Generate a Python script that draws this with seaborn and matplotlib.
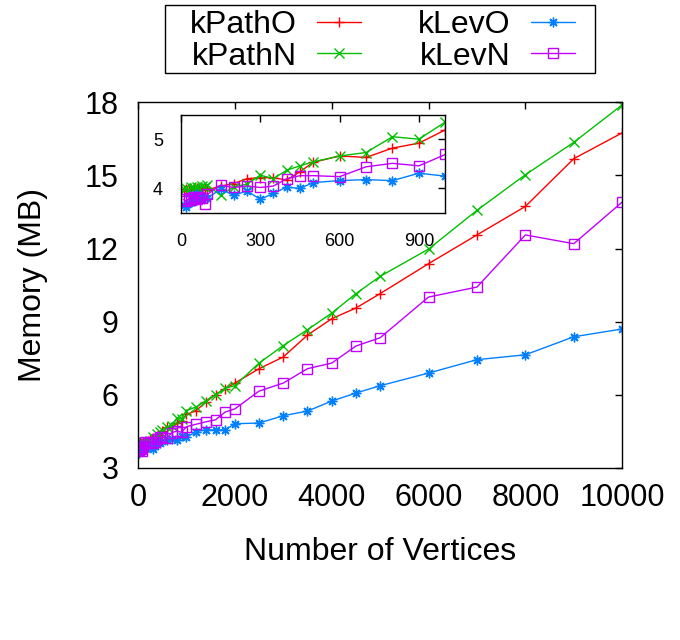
import matplotlib
matplotlib.use('Agg')
import matplotlib.pyplot as plt
import matplotlib.patches as mpatches
import seaborn as sns
import pandas as pd

# Data
vertices = [10, 20, 30, 40, 50, 60, 70, 80, 90, 100,
            150, 200, 250, 300, 350, 400, 450, 500,
            600, 700, 800, 900, 1000,
            1200, 1400, 1600, 1800, 2000,
            2500, 3000, 3500, 4000, 4500, 5000,
            6000, 7000, 8000, 9000, 10000]

kpath_o = [3.95, 3.98, 3.96, 3.99, 3.97, 4.00, 3.98, 3.99, 4.00, 3.97,
           4.05, 4.10, 4.20, 4.22, 4.22, 4.17, 4.34, 4.53,
           4.66, 4.63, 4.82, 4.92, 5.19,
           5.35, 5.70, 6.01, 6.25, 6.48,
           7.07, 7.55, 8.45, 9.12, 9.56, 10.15,
           11.38, 12.56, 13.73, 15.69, 16.75]

kpath_n = [3.98, 4.00, 3.97, 4.02, 4.00, 4.03, 4.01, 4.05, 4.02, 4.07,
           3.86, 4.03, 4.09, 4.27, 4.20, 4.37, 4.46, 4.54,
           4.66, 4.73, 5.05, 5.00, 5.35,
           5.50, 5.75, 6.00, 6.27, 6.37,
           7.30, 8.02, 8.67, 9.35, 10.15, 10.86,
           11.98, 13.57, 15.03, 16.36, 17.90]

klev_o = [3.66, 3.62, 3.70, 3.84, 3.75, 3.88, 3.78, 3.85, 3.80, 3.80,
          3.99, 3.86, 3.95, 3.78, 3.90, 4.03, 4.00, 4.12,
          4.16, 4.18, 4.16, 4.31, 4.25,
          4.49, 4.56, 4.56, 4.56, 4.81,
          4.84, 5.14, 5.33, 5.74, 6.07, 6.37,
          6.89, 7.44, 7.64, 8.38, 8.70]

klev_n = [3.78, 3.74, 3.80, 3.76, 3.82, 3.79, 3.83, 3.80, 3.69, 3.88,
          4.07, 4.02, 4.05, 4.02, 4.05, 4.20, 4.26, 4.26,
          4.24, 4.44, 4.51, 4.46, 4.69,
          4.79, 4.89, 4.97, 5.29, 5.42,
          6.15, 6.48, 7.07, 7.30, 8.00, 8.34,
          10.01, 10.42, 12.56, 12.20, 13.91]

series_names = ['kPathO', 'kPathN', 'kLevO', 'kLevN']
series_values = [kpath_o, kpath_n, klev_o, klev_n]
colors = ['#ff0000', '#00c000', '#0080ff', '#c000ff']
markers = ['+', 'x', (8, 2, 0), 's']

main_xticks = [0, 2000, 4000, 6000, 8000, 10000]
main_yticks = [3, 6, 9, 12, 15, 18]
inset_xticks = [0, 300, 600, 900]
inset_yticks = [4, 5]

df = pd.DataFrame({'vertices': vertices})
for name, vals in zip(series_names, series_values):
    df[name] = vals

sns.set_style('white')
plt.rcParams['font.family'] = ['Liberation Sans', 'DejaVu Sans']
plt.rcParams['text.color'] = 'black'
plt.rcParams['axes.labelcolor'] = 'black'

fig = plt.figure(figsize=(6.8, 6.4), dpi=100)
ax = fig.add_axes([0.203, 0.269, 0.712, 0.571])
ins = fig.add_axes([0.266, 0.667, 0.389, 0.154])
ins.patch.set_alpha(0)


def draw(a, data, msize):
    for name, col, mk in zip(series_names, colors, markers):
        face = 'none' if mk == 's' else col
        sns.lineplot(data=data, x='vertices', y=name, ax=a, color=col, lw=1,
                     marker=mk, markersize=msize, markeredgecolor=col,
                     markerfacecolor=face, markeredgewidth=1, label=name)


draw(ax, df, 7)
draw(ins, df[df['vertices'] <= 1000], 7)

for a in (ax, ins):
    for s in a.spines.values():
        s.set_color('black')
        s.set_linewidth(1)
    a.tick_params(direction='in', length=5, width=1, top=True, right=True,
                  colors='black', labelcolor='black')
    a.set_xlabel('')
    a.set_ylabel('')
    if a.get_legend() is not None:
        a.get_legend().remove()

ax.set_xlim(0, 10000)
ax.set_ylim(3, 18)
ax.set_xticks(main_xticks)
ax.set_yticks(main_yticks)
ax.tick_params(axis='both', labelsize=22)
ax.tick_params(axis='x', pad=11)
ax.tick_params(axis='y', pad=14)
ax.set_xlabel('Number of Vertices', fontsize=23, color='black')
ax.set_ylabel('Memory (MB)', fontsize=23, color='black')
ax.xaxis.set_label_coords(0.5, -0.19)
ax.yaxis.set_label_coords(-0.185, 0.5)

ins.set_xlim(0, 1000)
ins.set_ylim(3.5, 5.5)
ins.set_xticks(inset_xticks)
ins.set_yticks(inset_yticks)
ins.tick_params(axis='both', labelsize=13)
ins.tick_params(axis='x', pad=14)
ins.tick_params(axis='y', pad=13)

# legend: text left of the sample, box drawn separately (gnuplot style key)
handles, labels = ax.get_legend_handles_labels()
leg = fig.legend(handles, labels, ncol=2, loc='upper left',
                 bbox_to_anchor=(190 / 680, 1 - 10 / 640),
                 fontsize=23, markerfirst=False, frameon=False,
                 handlelength=1.4, handletextpad=0.62, columnspacing=1.78,
                 borderpad=0, labelspacing=0.05, borderaxespad=0)
fig.patches.append(mpatches.Rectangle((165 / 680, 1 - 73 / 640), 430 / 680,
                                      68 / 640, transform=fig.transFigure,
                                      fill=False, ec='black', lw=1))

fig.savefig('out.png', dpi=100)
